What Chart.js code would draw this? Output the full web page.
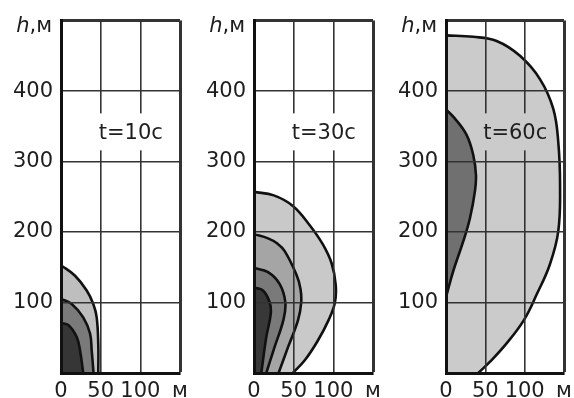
<!DOCTYPE html>
<html>
<head>
<meta charset="utf-8">
<script src="https://cdn.jsdelivr.net/npm/chart.js@4"></script>
<style>
  body { margin: 0; background: #fff; }
  canvas { position: absolute; top: 0; }
</style>
</head>
<body>
<canvas id="p10" width="190" height="398" style="left:0px"></canvas>
<canvas id="p30" width="190" height="398" style="left:190px"></canvas>
<canvas id="p60" width="194" height="398" style="left:380px"></canvas>
<script>
// x ticks along the ground (m), last one shows the unit
const xTickLabels = ["0", "50", "100", "м"];
const timeLabels = ["t=10с", "t=30с", "t=60с"];
const labelX = [88, 88, 88];
const labelH = [340, 340, 340];

// t = 10 s : outer, middle, inner zones (h in m, x = horizontal extent in m)
const h10a = [0, 40, 79, 98, 117, 138, 153];
const x10a = [47, 47, 45, 40.7, 32.4, 17.7, 0];
const h10b = [0, 32, 56, 79, 98, 105];
const x10b = [41, 38.7, 36.6, 28, 13.5, 0];
const h10c = [0, 32, 51, 68, 71];
const x10c = [28, 24, 19.8, 9.2, 0];

// t = 30 s
const h30a = [0, 18, 45, 75, 100, 125, 155, 182, 210, 237, 252, 257];
const x30a = [49, 64, 80, 94, 102, 103, 98, 87, 70, 49, 25, 0];
const h30b = [0, 37, 75, 100, 120, 140, 173, 184, 191, 197];
const x30b = [31, 43, 55.5, 59.5, 58.5, 53.3, 38.7, 29, 17.7, 0];
const h30c = [0, 37, 75, 100, 126, 143, 149];
const x30c = [15.5, 26, 37, 39.5, 32.4, 17.7, 0];
const h30d = [0, 51, 84, 100, 117, 121.5];
const x30d = [9.2, 15.5, 21.1, 19.8, 11.3, 0];

// t = 60 s
const h60a = [0, 16, 42, 75, 112, 154, 201, 265, 328, 375, 417, 450, 471, 477, 479];
const x60a = [41, 56, 77, 99, 115.5, 132, 142.7, 145, 142.7, 136.3, 119.4, 94, 64.4, 34.7, 0];
const h60b = [107.5, 145, 187, 220, 258, 281, 309, 337.6, 361, 374];
const x60b = [0, 9.3, 22, 30.5, 36.8, 38.1, 34.7, 26.3, 11.4, 0];

Chart.defaults.font.family = '"DejaVu Sans"';
Chart.defaults.font.size = 21;
Chart.defaults.color = "#1e1e1e";

const extras = {
  id: "extras",
  afterDraw(chart, args, o) {
    const { ctx, chartArea, scales } = chart;
    ctx.save();
    // axis name h,м
    ctx.font = '21px "DejaVu Sans"';
    ctx.fillStyle = "#1e1e1e";
    ctx.textAlign = "right";
    ctx.textBaseline = "alphabetic";
    const rx = chartArea.left - 9;
    ctx.fillText(",м", rx, 32);
    const w = ctx.measureText(",м").width;
    ctx.font = 'italic 21px "DejaVu Sans"';
    ctx.fillText("h", rx - w, 32);
    // time label with a patch behind it
    ctx.font = '21px "DejaVu Sans"';
    const px = scales.x.getPixelForValue(o.x);
    const py = scales.y.getPixelForValue(o.h);
    const tw = ctx.measureText(o.text).width;
    ctx.fillStyle = o.bg;
    ctx.fillRect(px - tw / 2 - 2, py - 20, tw + 4, 37);
    ctx.fillStyle = "#1e1e1e";
    ctx.textAlign = "center";
    ctx.textBaseline = "middle";
    ctx.fillText(o.text, px, py);
    ctx.restore();
  }
};

function zone(h, x, color) {
  return {
    data: h.map((v, i) => ({ x: x[i], y: v })),
    backgroundColor: color,
    borderColor: "#111",
    borderWidth: 2.6,
    fill: "origin",
    pointRadius: 0,
    tension: 0.4
  };
}

function makePanel(id, zones, info) {
  new Chart(document.getElementById(id), {
    type: "line",
    data: { datasets: zones },
    options: {
      indexAxis: "y",
      responsive: false,
      animation: false,
      events: [],
      layout: { padding: { top: 18, right: info.padRight, left: 0, bottom: 0 } },
      plugins: { legend: { display: false }, tooltip: { enabled: false }, extras: info },
      scales: {
        x: {
          type: "linear",
          position: "bottom",
          min: 0,
          max: 150,
          afterFit: s => { s.height = 25; s.paddingLeft = 0; s.paddingRight = 0; },
          ticks: {
            stepSize: 50,
            autoSkip: false,
            maxRotation: 0,
            padding: 6,
            callback: (v, i) => xTickLabels[i]
          },
          grid: {
            z: 1,
            color: "#333",
            drawTicks: false,
            lineWidth: c => (c.tick && c.tick.value === 150 ? 3 : 1.6)
          },
          border: { z: 2, color: "#111", width: 3 }
        },
        y: {
          type: "linear",
          position: "left",
          min: 0,
          max: 500,
          afterFit: s => { s.width = info.axisWidth; },
          ticks: {
            stepSize: 100,
            padding: 8,
            callback: v => (v === 0 || v === 500 ? "" : v)
          },
          grid: {
            z: 1,
            color: "#333",
            drawTicks: false,
            lineWidth: c => (c.tick && c.tick.value === 500 ? 3 : 1.6)
          },
          border: { z: 2, color: "#111", width: 3 }
        }
      }
    },
    plugins: [extras]
  });
}

makePanel("p10", [
  zone(h10c, x10c, "#363636"),
  zone(h10b, x10b, "#7a7a7a"),
  zone(h10a, x10a, "#bebebe")
], { axisWidth: 61, padRight: 10, text: timeLabels[0], x: labelX[0], h: labelH[0], bg: "#fff" });

makePanel("p30", [
  zone(h30d, x30d, "#383838"),
  zone(h30c, x30c, "#7a7a7a"),
  zone(h30b, x30b, "#a5a5a5"),
  zone(h30a, x30a, "#c9c9c9")
], { axisWidth: 64, padRight: 7, text: timeLabels[1], x: labelX[1], h: labelH[1], bg: "#fff" });

makePanel("p60", [
  zone(h60b, x60b, "#707070"),
  zone(h60a, x60a, "#cbcbcb")
], { axisWidth: 66, padRight: 10, text: timeLabels[2], x: labelX[2], h: labelH[2], bg: "#cbcbcb" });
</script>
</body>
</html>
